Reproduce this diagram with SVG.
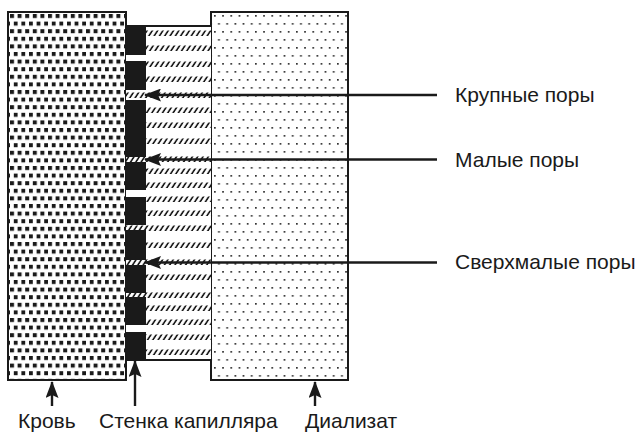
<svg xmlns="http://www.w3.org/2000/svg" width="640" height="434" viewBox="0 0 640 434">
<defs>
<style>
.lbl{font-family:"Liberation Sans",Arial,sans-serif;font-size:21px;fill:#1a1a1a}
.ol{fill:none;stroke:#1a1a1a;stroke-width:2}
.ln{stroke:#1a1a1a;stroke-width:2.4;fill:none}
.blk{fill:#1a1a1a}
.hb{fill:url(#hatch)}
</style>
<pattern id="sq" x="10" y="14" width="7.6" height="15.2" patternUnits="userSpaceOnUse">
<rect x="0" y="0" width="4" height="4" fill="#1a1a1a"/>
<rect x="3.8" y="7.6" width="4" height="4" fill="#1a1a1a"/>
</pattern>
<pattern id="dt" x="214" y="15" width="8.2" height="16" patternUnits="userSpaceOnUse">
<rect x="0" y="0" width="1.7" height="1.7" fill="#333"/>
<rect x="4.1" y="8" width="1.7" height="1.7" fill="#333"/>
</pattern>
<pattern id="hatch" x="0" y="0" width="5.3" height="10" patternUnits="userSpaceOnUse" patternTransform="skewX(-33)">
<rect x="1.6" y="0" width="2" height="10" fill="#1a1a1a"/>
</pattern>
<marker id="ah" viewBox="0 0 17 13" refX="16" refY="6.5" markerWidth="17" markerHeight="13" markerUnits="userSpaceOnUse" orient="auto">
<path d="M0,0 L17,6.5 L0,13 L3,6.5 Z" fill="#1a1a1a"/>
</marker>
</defs>

<g id="blood">
<rect x="8" y="12" width="118" height="368" fill="url(#sq)"/>
<rect x="8" y="12" width="118" height="368" class="ol"/>
</g>

<g id="dialysate">
<rect x="211" y="12" width="137" height="368" fill="url(#dt)"/>
<rect x="211" y="12" width="137" height="368" class="ol"/>
</g>

<g id="capillary-wall">
<rect x="126" y="26" width="85" height="334" fill="#fff"/>
<g id="hatch-rows">
<rect x="146" y="30.5" width="65" height="5.5" class="hb"/>
<rect x="146" y="45.5" width="65" height="5.5" class="hb"/>
<rect x="146" y="61.5" width="65" height="5.5" class="hb"/>
<rect x="146" y="76.5" width="65" height="5.5" class="hb"/>
<rect x="126" y="92.5" width="85" height="5.5" class="hb"/>
<rect x="146" y="107.5" width="65" height="5.5" class="hb"/>
<rect x="146" y="122.5" width="65" height="5.5" class="hb"/>
<rect x="146" y="138.5" width="65" height="5.5" class="hb"/>
<rect x="126" y="156.5" width="85" height="5.5" class="hb"/>
<rect x="146" y="168.5" width="65" height="5.5" class="hb"/>
<rect x="146" y="182.5" width="65" height="5.5" class="hb"/>
<rect x="146" y="196.5" width="65" height="5.5" class="hb"/>
<rect x="146" y="210.5" width="65" height="5.5" class="hb"/>
<rect x="126" y="225.5" width="85" height="5.5" class="hb"/>
<rect x="146" y="242.5" width="65" height="5.5" class="hb"/>
<rect x="126" y="259.5" width="85" height="5.5" class="hb"/>
<rect x="146" y="274.5" width="65" height="5.5" class="hb"/>
<rect x="126" y="292.5" width="85" height="5.5" class="hb"/>
<rect x="146" y="305.5" width="65" height="5.5" class="hb"/>
<rect x="146" y="319.5" width="65" height="5.5" class="hb"/>
<rect x="146" y="334.5" width="65" height="5.5" class="hb"/>
<rect x="146" y="349.5" width="65" height="5.5" class="hb"/>
</g>
<g id="wall-blocks">
<rect x="126" y="26" width="20" height="29" class="blk"/>
<rect x="126" y="61" width="20" height="29" class="blk"/>
<rect x="126" y="100" width="20" height="57" class="blk"/>
<rect x="126" y="162" width="20" height="28" class="blk"/>
<rect x="126" y="197" width="20" height="28" class="blk"/>
<rect x="126" y="230" width="20" height="30" class="blk"/>
<rect x="126" y="265" width="20" height="28" class="blk"/>
<rect x="126" y="297" width="20" height="28" class="blk"/>
<rect x="126" y="332" width="20" height="28" class="blk"/>
</g>
<line x1="125" y1="26" x2="211" y2="26" class="ol"/>
<line x1="125" y1="360" x2="211" y2="360" class="ol"/>
</g>

<g id="connectors">
<line x1="437" y1="95" x2="145" y2="95" class="ln" marker-end="url(#ah)"/>
<line x1="437" y1="159.5" x2="145" y2="159.5" class="ln" marker-end="url(#ah)"/>
<line x1="437" y1="262.5" x2="145" y2="262.5" class="ln" marker-end="url(#ah)"/>
<line x1="52" y1="406" x2="52" y2="382" class="ln" marker-end="url(#ah)"/>
<line x1="135" y1="406" x2="135" y2="361" class="ln" marker-end="url(#ah)"/>
<line x1="315" y1="406" x2="315" y2="382" class="ln" marker-end="url(#ah)"/>
</g>

<g id="labels">
<text class="lbl" x="18" y="428">Кровь</text>
<text class="lbl" x="99" y="428">Стенка капилляра</text>
<text class="lbl" x="305" y="428">Диализат</text>
<text class="lbl" x="455" y="102">Крупные поры</text>
<text class="lbl" x="455" y="167">Малые поры</text>
<text class="lbl" x="455" y="269">Сверхмалые поры</text>
</g>
</svg>
